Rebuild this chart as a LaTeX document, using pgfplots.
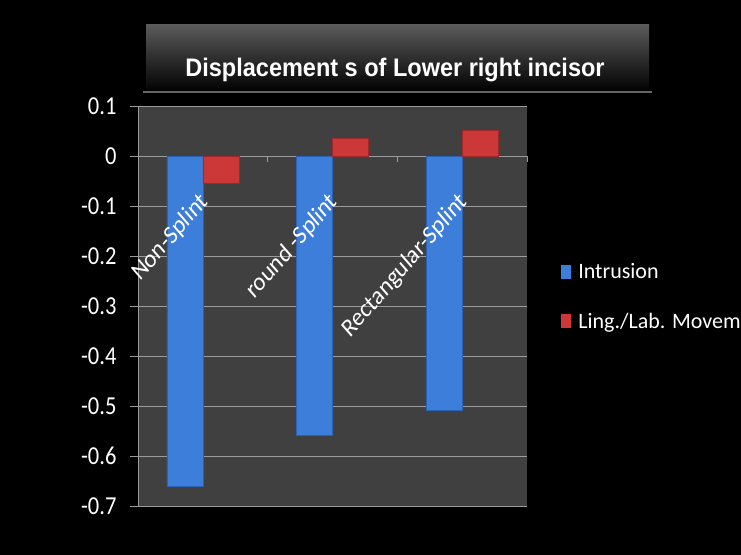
\documentclass[border=0pt]{standalone}
\usepackage{pgfplots}
\pgfplotsset{compat=1.18}
\usepackage{fontspec}
\setmainfont{Carlito}
\newfontfamily\titlefont{Liberation Sans}
\definecolor{plotbg}{HTML}{404040}
\definecolor{gridc}{HTML}{9C9C9C}
\definecolor{barblue}{HTML}{3C7EDA}
\definecolor{barbluedk}{HTML}{2C62B4}
\definecolor{barred}{HTML}{CC3838}
\definecolor{barreddk}{HTML}{A02828}
\definecolor{bannertop}{HTML}{5A5A5A}
\tikzset{catlabel/.style={xshift=6bp, yshift=-47bp, yscale=1.15, rotate=45, anchor=base east, text=white, inner sep=0pt,
    font=\fontsize{22.5bp}{24bp}\selectfont}}
\begin{document}
\begin{tikzpicture}
\fill[black] (0bp,0bp) rectangle (741bp,555bp);
% title banner
\shade[top color=bannertop, middle color=black!95, bottom color=black] (146bp,463bp) rectangle (649bp,530bp);
\draw[black!60, line width=1.5bp] (143bp,463bp) -- (652bp,463bp);
\node[anchor=base, text=white, font=\titlefont\bfseries\fontsize{23.5bp}{26bp}\selectfont, inner sep=0pt, yscale=1.08] at (395bp,478bp) {Displacement s of Lower right incisor};
\begin{axis}[
  at={(138bp,49bp)}, anchor=south west,
  width=389bp, height=400bp, scale only axis,
  clip=false,
  xmin=-0.5, xmax=2.5, ymin=-0.7, ymax=0.1,
  axis x line*=middle, axis y line*=left,
  axis background/.style={fill=plotbg},
  axis line style={gridc, line width=1bp},
  ymajorgrids, major grid style={gridc, line width=1bp},
  tick align=outside,
  ytick={-0.7,-0.6,-0.5,-0.4,-0.3,-0.2,-0.1,0,0.1},
  yticklabels={-0.7,-0.6,-0.5,-0.4,-0.3,-0.2,-0.1,0,0.1},
  major tick length=8bp, minor tick length=6bp,
  ytick style={gridc, line width=1bp},
  yticklabel style={text=white, font=\fontsize{22.5bp}{24bp}\selectfont, yscale=1.15, xshift=-10bp},
  xtick={0,1,2},
  xticklabels={},
  major x tick style={draw=none},
  minor xtick={-0.5,0.5,1.5,2.5},
  minor x tick style={gridc, line width=1bp},
  ybar=0pt, bar width=36bp,
  legend style={at={(1.08,0.615)}, anchor=north west, draw=none, fill=none, text=white,
    font=\fontsize{22bp}{24bp}\selectfont, row sep=31bp,
    nodes={inner sep=1bp}},
  legend cell align=left,
  legend image code/.code={\fill[#1, draw=none] (0bp,-7bp) rectangle (10bp,7bp); \path[draw=none] (0bp,0bp) -- (16bp,0bp);},
]
\addplot[draw=barbluedk, line width=0.5bp, fill=barblue]
  coordinates {(0,-0.66) (1,-0.558) (2,-0.509)};
\addlegendentry{Intrusion}
\addplot[draw=barreddk, line width=0.5bp, fill=barred]
  coordinates {(0,-0.055) (1,0.035) (2,0.052)};
\addlegendentry{Ling./Lab. Movem}
\node[catlabel] at (axis cs:0,0) {Non-Splint};
\node[catlabel] at (axis cs:1,0) {round -Splint};
\node[catlabel] at (axis cs:2,0) {Rectangular-Splint};
\end{axis}
\pgfresetboundingbox
\useasboundingbox (0bp,0bp) rectangle (741bp,555bp);
\end{tikzpicture}
\end{document}
